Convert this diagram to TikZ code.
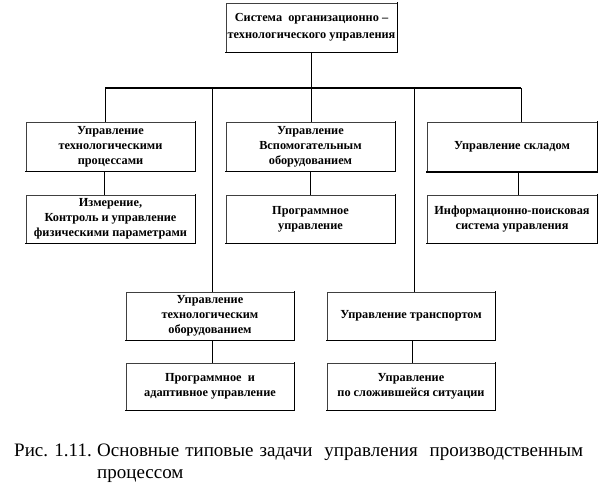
\documentclass[tikz,border=0pt]{standalone}
\usepackage{fontspec}
\setmainfont{Liberation Serif}
\begin{document}
\begin{tikzpicture}[x=1pt,y=-1pt,
  box/.style={draw=black!75, line width=1pt, fill=white, inner sep=0pt, align=center,
    font=\bfseries\fontsize{12.3}{15}\selectfont},
  edge/.style={draw=black, line width=1.8pt, line cap=rect},
  conn/.style={draw=black, line width=0.9pt},
  busline/.style={draw=black, line width=1.6pt},
  captxt/.style={inner sep=0pt, font=\fontsize{19}{22}\selectfont}]
\useasboundingbox (0,0) rectangle (600,488);
% boxes
\node[box, minimum width=171pt, minimum height=49pt] (top) at (311.5,27.5) {Система\ \ организационно –\\[2pt]технологического управления};
\node[box, minimum width=169pt, minimum height=49pt] (L1) at (110.5,146.5) {Управление\\технологическими\\процессами};
\node[box, minimum width=169pt, minimum height=49pt] (M1) at (310.5,146.5) {Управление\\Вспомогательным\\оборудованием};
\node[box, minimum width=170pt, minimum height=49pt] (R1) at (512,147) {Управление складом};
\node[box, minimum width=169pt, minimum height=48pt] (L2) at (110.5,219) {Измерение,\\Контроль и управление\\физическими параметрами};
\node[box, minimum width=169pt, minimum height=48pt] (M2) at (310.5,219) {Программное\\управление};
\node[box, minimum width=170pt, minimum height=48pt] (R2) at (512,219) {Информационно-поисковая\\система управления};
\node[box, minimum width=168pt, minimum height=48pt] (L3) at (210,316) {Управление\\технологическим\\оборудованием};
\node[box, minimum width=168pt, minimum height=48pt] (R3) at (411,316) {Управление транспортом};
\node[box, minimum width=168pt, minimum height=47pt] (L4) at (210,386.5) {Программное\ \ и\\адаптивное управление};
\node[box, minimum width=168pt, minimum height=47pt] (R4) at (411,386.5) {Управление\\по сложившейся ситуации};
% heavier right and bottom edges
\foreach \n in {top,L1,M1,R1,L2,M2,R2,L3,R3,L4,R4}
  \draw[edge] (\n.north east) -- (\n.south east) -- (\n.south west);
% bus
\coordinate (bL) at (105,88);
\coordinate (bML) at (212,88);
\coordinate (bM) at (311,88);
\coordinate (bMR) at (414,88);
\coordinate (bR) at (521,88);
\draw[conn] (top.south -| bM) -- (bM);
\draw[busline] (bL) -- (bR);
\draw[conn] (bL) -- (bL |- L1.north);
\draw[conn] (bML) -- (bML |- L3.north);
\draw[conn] (bM) -- (bM |- M1.north);
\draw[conn] (bMR) -- (bMR |- R3.north);
\draw[conn] (bR) -- (bR |- R1.north);
% box to box
\coordinate (cL) at (104,0);
\coordinate (cM) at (310,0);
\coordinate (cR) at (518,0);
\coordinate (cL3) at (212,0);
\coordinate (cR3) at (412,0);
\draw[conn] (cL |- L1.south) -- (cL |- L2.north);
\draw[conn] (cM |- M1.south) -- (cM |- M2.north);
\draw[conn] (cR |- R1.south) -- (cR |- R2.north);
\draw[conn] (cL3 |- L3.south) -- (cL3 |- L4.north);
\draw[conn] (cR3 |- R3.south) -- (cR3 |- R4.north);
% caption
\node[captxt, anchor=base west] (capA) at (14,456) {Рис. 1.11.};
\node[captxt, anchor=base west, text width=486pt, align=justify] (capB) at (97,456) {Основные типовые задачи\ \ управления\ \ производственным\linebreak процессом};
\end{tikzpicture}
\end{document}
